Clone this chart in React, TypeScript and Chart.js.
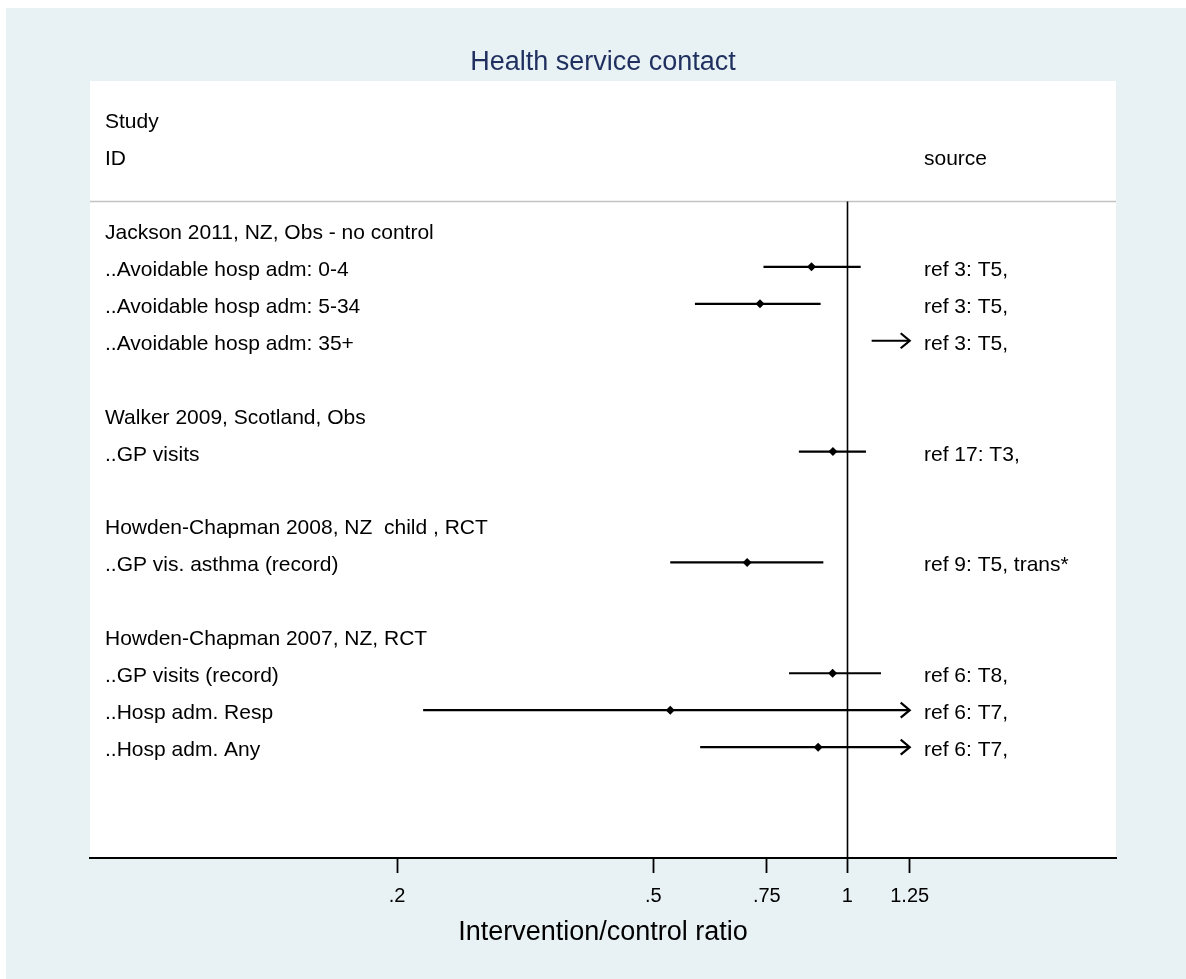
import { useEffect, useRef } from "react";
import { Chart, registerables } from "chart.js";

Chart.register(...registerables);

// ---------------- data ----------------
const ROW_INDEX = [1, 2, 3, 4, 5, 6, 7, 8, 9, 10, 11, 12, 13, 14, 15];
const STUDY_LABELS = [
  "Jackson 2011, NZ, Obs - no control",
  "..Avoidable hosp adm: 0-4",
  "..Avoidable hosp adm: 5-34",
  "..Avoidable hosp adm: 35+",
  "",
  "Walker 2009, Scotland, Obs",
  "..GP visits",
  "",
  "Howden-Chapman 2008, NZ  child , RCT",
  "..GP vis. asthma (record)",
  "",
  "Howden-Chapman 2007, NZ, RCT",
  "..GP visits (record)",
  "..Hosp adm. Resp",
  "..Hosp adm. Any",
];
const SOURCE_LABELS = [
  "",
  "ref 3: T5,",
  "ref 3: T5,",
  "ref 3: T5,",
  "",
  "",
  "ref 17: T3,",
  "",
  "",
  "ref 9: T5, trans*",
  "",
  "",
  "ref 6: T8,",
  "ref 6: T7,",
  "ref 6: T7,",
];
const ESTIMATES = [null, 0.88, 0.732, 1.35, null, null, 0.95, null, null, 0.699, null, null, 0.949, 0.531, 0.901];
const LOWER_CI = [null, 0.741, 0.58, 1.091, null, null, 0.841, null, null, 0.531, null, null, 0.812, 0.2195, 0.591];
const UPPER_CI = [null, 1.049, 0.909, 1.67, null, null, 1.069, null, null, 0.918, null, null, 1.128, 1.28, 1.37];

const TICK_VALUES = [0.2, 0.5, 0.75, 1, 1.25];
const TICK_LABELS = [".2", ".5", ".75", "1", "1.25"];
const HEADER_LEFT = ["Study", "ID"];
const HEADER_LEFT_ROWS = [-2, -1];
const HEADER_RIGHT = "source";
const HEADER_RIGHT_ROW = -1;
const TITLE = "Health service contact";
const AXIS_TITLE = "Intervention/control ratio";

// ---------------- styling ----------------
const FONT = "'Liberation Sans', Arial, Helvetica, sans-serif";
const OUTER_BG = "#e8f1f3";
const TITLE_COLOR = "#1f2f5f";
const CLIP_MIN = 0.2;
const CLIP_MAX = 1.25;
const NULL_VALUE = 1;
const HEADER_RULE_ROW = 0.23;

const W = 1186;
const H = 979;

const forestPlugin = {
  id: "forestPlugin",
  beforeDraw(chart: any) {
    const { ctx, chartArea } = chart;
    const { left, right, top, bottom } = chartArea;
    ctx.save();
    ctx.fillStyle = "#ffffff";
    ctx.fillRect(0, 0, chart.width, chart.height);
    ctx.fillStyle = OUTER_BG;
    ctx.fillRect(6, 8, chart.width - 6, chart.height - 8);
    ctx.fillStyle = "#ffffff";
    ctx.fillRect(left, top, right - left, bottom - top);
    // title
    ctx.fillStyle = TITLE_COLOR;
    ctx.font = `27px ${FONT}`;
    ctx.textAlign = "center";
    ctx.textBaseline = "alphabetic";
    ctx.fillText(TITLE, (left + right) / 2, 69.5);
    ctx.restore();
  },
  beforeDatasetsDraw(chart: any) {
    const { ctx, chartArea } = chart;
    const { left, right, bottom } = chartArea;
    const xs = chart.scales.x;
    const ys = chart.scales.y;
    ctx.save();

    // header rule
    const ruleY = ys.getPixelForValue(HEADER_RULE_ROW);
    ctx.strokeStyle = "#c2c2c2";
    ctx.lineWidth = 1.5;
    ctx.beginPath();
    ctx.moveTo(left, ruleY);
    ctx.lineTo(right, ruleY);
    ctx.stroke();

    // null line
    const nx = Math.round(xs.getPixelForValue(NULL_VALUE)) + 0.5;
    ctx.strokeStyle = "#000000";
    ctx.lineWidth = 1.6;
    ctx.beginPath();
    ctx.moveTo(nx, ruleY);
    ctx.lineTo(nx, bottom);
    ctx.stroke();

    // confidence intervals
    ctx.lineWidth = 2.2;
    ctx.lineCap = "butt";
    ROW_INDEX.forEach((row, i) => {
      const lo = LOWER_CI[i];
      const hi = UPPER_CI[i];
      if (lo == null || hi == null) return;
      const y = ys.getPixelForValue(row);
      const x1 = xs.getPixelForValue(Math.max(lo, CLIP_MIN));
      const x2 = xs.getPixelForValue(Math.min(hi, CLIP_MAX));
      ctx.beginPath();
      ctx.moveTo(x1, y);
      ctx.lineTo(x2, y);
      ctx.stroke();
      if (hi > CLIP_MAX) {
        ctx.beginPath();
        ctx.moveTo(x2 - 9, y - 7.5);
        ctx.lineTo(x2, y);
        ctx.lineTo(x2 - 9, y + 7.5);
        ctx.stroke();
      }
      if (lo < CLIP_MIN) {
        ctx.beginPath();
        ctx.moveTo(x1 + 9, y - 7.5);
        ctx.lineTo(x1, y);
        ctx.lineTo(x1 + 9, y + 7.5);
        ctx.stroke();
      }
    });

    // text columns
    const textX = left + 15;
    const srcX = 924;
    ctx.fillStyle = "#000000";
    ctx.font = `21px ${FONT}`;
    ctx.textAlign = "left";
    ctx.textBaseline = "alphabetic";
    const off = 9;
    HEADER_LEFT.forEach((t, i) => {
      ctx.fillText(t, textX, ys.getPixelForValue(HEADER_LEFT_ROWS[i]) + off);
    });
    ctx.fillText(HEADER_RIGHT, srcX, ys.getPixelForValue(HEADER_RIGHT_ROW) + off);
    ROW_INDEX.forEach((row, i) => {
      const y = ys.getPixelForValue(row) + off;
      if (STUDY_LABELS[i]) ctx.fillText(STUDY_LABELS[i], textX, y);
      if (SOURCE_LABELS[i]) ctx.fillText(SOURCE_LABELS[i], srcX, y);
    });
    ctx.restore();
  },
};

export default function App() {
  const canvasRef = useRef<HTMLCanvasElement | null>(null);

  useEffect(() => {
    const canvas = canvasRef.current;
    if (!canvas) return;
    const pointData = ROW_INDEX.map((row, i) => ({ x: ESTIMATES[i], y: row })).filter(
      (p) => p.x != null && (p.x as number) >= CLIP_MIN && (p.x as number) <= CLIP_MAX
    );
    const chart = new Chart(canvas, {
      type: "scatter",
      data: {
        datasets: [
          {
            label: "Estimate",
            data: pointData as any,
            pointStyle: "rectRot",
            pointRadius: 4.5,
            pointBackgroundColor: "#000000",
            pointBorderWidth: 0,
            borderColor: "#000000",
            backgroundColor: "#000000",
          },
        ],
      },
      options: {
        animation: false,
        responsive: false,
        devicePixelRatio: 1,
        layout: { padding: { left: 90, right: 70, top: 81, bottom: 0 } },
        plugins: {
          legend: { display: false },
          tooltip: { enabled: false },
          title: { display: false },
        },
        scales: {
          x: {
            type: "logarithmic",
            min: 0.06671,
            max: 2.6135,
            bounds: "data",
            afterBuildTicks: (scale: any) => {
              scale.ticks = TICK_VALUES.map((v) => ({ value: v }));
            },
            afterFit: (scale: any) => {
              scale.height = 121;
            },
            ticks: {
              autoSkip: false,
              maxRotation: 0,
              minRotation: 0,
              padding: 11,
              color: "#000000",
              font: { family: FONT, size: 20 },
              callback: (value: any) => {
                const idx = TICK_VALUES.indexOf(Number(value));
                return idx >= 0 ? TICK_LABELS[idx] : "";
              },
            },
            grid: {
              display: true,
              drawOnChartArea: false,
              drawTicks: true,
              tickLength: 15,
              tickColor: "#000000",
              tickWidth: 1.8,
            },
            border: { display: true, color: "#000000", width: 2 },
            title: {
              display: true,
              text: AXIS_TITLE,
              color: "#000000",
              font: { family: FONT, size: 27 },
              padding: { top: 0, bottom: 30 },
            },
          },
          y: {
            type: "linear",
            display: false,
            reverse: true,
            min: -3.03,
            max: 18.0,
          },
        },
      },
      plugins: [forestPlugin],
    } as any);
    return () => chart.destroy();
  }, []);

  return (
    <div style={{ position: "fixed", left: 0, top: 0, width: W, height: H }}>
      <canvas ref={canvasRef} width={W} height={H} style={{ width: W, height: H, display: "block" }} />
    </div>
  );
}
